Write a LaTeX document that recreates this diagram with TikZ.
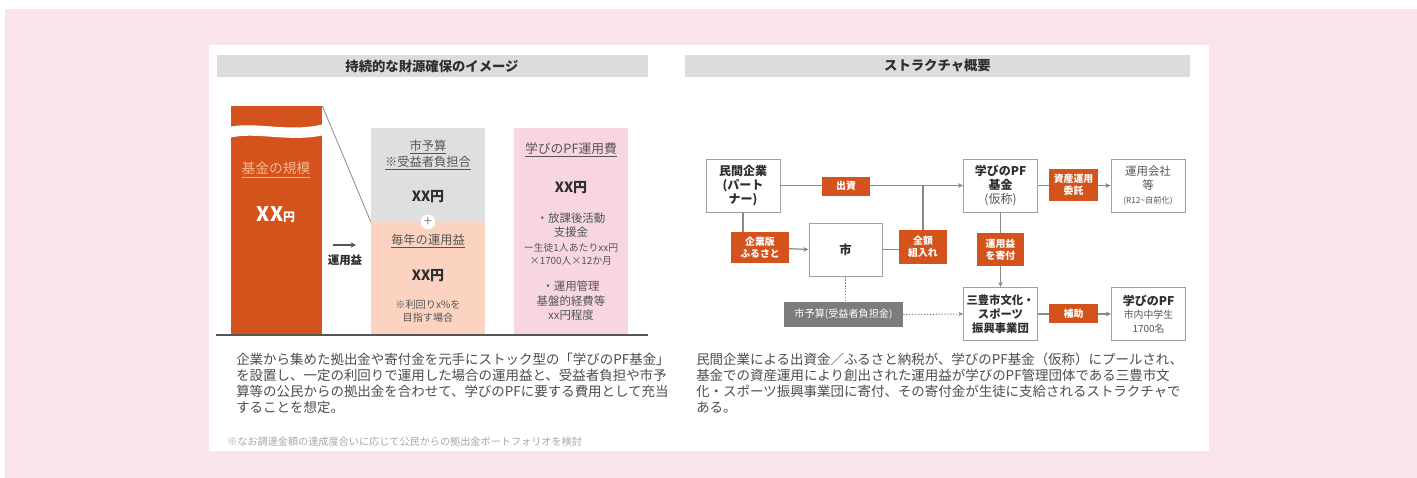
\documentclass[tikz,border=0pt]{standalone}
\usepackage{fontspec}
\setmainfont{Noto Sans CJK JP}
\usetikzlibrary{arrows.meta}
\definecolor{bgpink}{HTML}{F9E3ED}
\definecolor{orng}{HTML}{D4531C}
\definecolor{hdrgray}{HTML}{DCDCDC}
\definecolor{boxgray}{HTML}{DFDFDF}
\definecolor{peach}{HTML}{FBD3C0}
\definecolor{pinkbox}{HTML}{F8D6DF}
\definecolor{dgray}{HTML}{7C7C7C}
\definecolor{linegray}{HTML}{8A8A8A}
\definecolor{txt}{HTML}{2E2E2E}
\definecolor{txtmid}{HTML}{555555}
\definecolor{lightorng}{HTML}{F6B68E}
\tikzset{
  hdr/.style={fill=hdrgray, minimum height=16.5pt, inner sep=0pt, text=txt, font=\fontsize{10}{11}\selectfont\bfseries},
  wbox/.style={draw=linegray!80, line width=0.6pt, fill=white, minimum width=55.5pt, minimum height=39.75pt, inner sep=0pt, align=center, text=txt, font=\fontsize{9}{10.3}\selectfont\bfseries},
  olab/.style={fill=orng, inner sep=0pt, align=center, text=white, font=\fontsize{7.4}{9}\selectfont\bfseries},
  conn/.style={draw=linegray, line width=0.9pt},
  arr/.style={conn, -{Stealth[length=4pt,width=3.6pt]}},
  dotl/.style={draw=linegray, line width=0.8pt, dash pattern=on 1pt off 1.2pt},
  para/.style={anchor=north west, align=left, inner sep=0pt, text=txt!85, font=\fontsize{10.1}{11.9}\selectfont},
  bartxt/.style={align=center, inner sep=0pt, text=txtmid},
}
\begin{document}
\begin{tikzpicture}[x=0.75pt,y=-0.75pt]
\useasboundingbox (0,0) rectangle (1417,478);
\fill[white] (0,0) rectangle (1417,478);
\fill[bgpink] (5,9) rectangle (1417,478);
\fill[white] (209,45) rectangle (1209,451);

% headers
\node[hdr, minimum width=323.25pt] (h1) at (432,66) {持続的な財源確保のイメージ};
\node[hdr, minimum width=378.75pt] (h2) at (937.5,66) {ストラクチャ概要};

% ---------- left diagram ----------
\node[fill=orng, minimum width=68.25pt, minimum height=171.75pt, inner sep=0pt] (col) at (276.5,220.5) {};
\fill[white] (229,127) .. controls (255,121) and (290,133) .. (324,124)
  -- (324,135) .. controls (290,143) and (255,131) .. (229,138) -- cycle;
\node[inner sep=0pt, text=lightorng, font=\fontsize{10.3}{12}\selectfont] (kibo) at (276,170) {\underline{基金の規模}};
\node[inner sep=0pt, text=white, font=\bfseries] (kxx) at (276,215) {\fontsize{15}{17}\selectfont XX\fontsize{9}{10}\selectfont 円};

\node[fill=boxgray, minimum width=85.5pt, minimum height=70.5pt, inner sep=0pt] (gbox) at (428,175) {};
\node[fill=peach, minimum width=85.5pt, minimum height=84.75pt, inner sep=0pt] (peach) at (428,278.5) {};
\node[fill=pinkbox, minimum width=85.5pt, minimum height=155.25pt, inner sep=0pt] (pbox) at (571,231.5) {};

\draw[draw=linegray, line width=0.6pt] (col.north east) -- (peach.north west);
\draw[draw=txtmid, line width=0.8pt] (216,335) -- (648,335);

\node[circle, fill=white, minimum size=11pt, inner sep=0pt, text=linegray, font=\fontsize{11}{11}\selectfont] (plus) at (428,222) {+};

\node[bartxt, font=\fontsize{9.2}{11.5}\selectfont] (g1) at (428,155) {\underline{市予算}\\\underline{※受益者負担合}};
\node[bartxt, text=txt, font=\fontsize{10.5}{12}\selectfont\bfseries] (g2) at (428,197) {XX円};
\node[bartxt, font=\fontsize{9.2}{11}\selectfont] (p1) at (428,241) {\underline{毎年の運用益}};
\node[bartxt, text=txt, font=\fontsize{10.5}{12}\selectfont\bfseries] (p2) at (428,276) {XX円};
\node[bartxt, font=\fontsize{7.6}{9.5}\selectfont] (p3) at (428,311) {※利回りx\%を\\目指す場合};

\node[bartxt, font=\fontsize{9.6}{11}\selectfont] (k1) at (571,150) {\underline{学びのPF運用費}};
\node[bartxt, text=txt, font=\fontsize{10.5}{12}\selectfont\bfseries] (k2) at (571,188) {XX円};
\node[bartxt, font=\fontsize{8.6}{11}\selectfont] (k3) at (571,225) {・放課後活動\\支援金};
\node[bartxt, font=\fontsize{7.4}{10}\selectfont] (k4) at (571,254) {ー生徒1人あたりxx円\\×1700人×12か月};
\node[bartxt, font=\fontsize{8.6}{10.8}\selectfont] (k5) at (571,301) {・運用管理\\基盤的経費等\\xx円程度};

\coordinate (ua) at (333,245);
\coordinate (ub) at (356,245);
\draw[draw=txtmid, line width=1.3pt, -{Stealth[length=4pt,width=4pt]}] (ua) -- (ub);
\node[inner sep=0pt, text=txt, font=\fontsize{8.6}{10}\selectfont\bfseries] (unyoeki) at (345,260) {運用益};

\node[para] (ltext) at (236,353) {企業から集めた拠出金や寄付金を元手にストック型の「学びのPF基金」\\を設置し、一定の利回りで運用した場合の運用益と、受益者負担や市予\\算等の公民からの拠出金を合わせて、学びのPFに要する費用として充当\\することを想定。};
\node[anchor=west, inner sep=0pt, text=black!35, font=\fontsize{7.6}{9}\selectfont] (note) at (227,442) {※なお調達金額の達成度合いに応じて公民からの拠出金ポートフォリオを検討};

% ---------- right diagram ----------
\node[wbox] (partner) at (743,185.5) {民間企業\\(パート\\ナー)};
\node[wbox] (fund) at (1000.5,185.5) {学びのPF\\基金\\{\mdseries\color{txtmid}(仮称)}};
\node[wbox, font=\fontsize{8.6}{10.3}\selectfont, text=txtmid] (company) at (1148,185.5) {運用会社\\等\\{\fontsize{6.2}{8}\selectfont (R12\textasciitilde 自前化)}};
\node[wbox, minimum width=54.75pt, font=\fontsize{9.2}{10}\selectfont\bfseries] (shi) at (845.5,249.5) {市};
\node[wbox, font=\fontsize{8.5}{10.3}\selectfont\bfseries] (dan) at (1000.5,314) {三豊市文化・\\スポーツ\\振興事業団};
\node[wbox] (pf) at (1148.5,314) {学びのPF\\{\mdseries\color{txtmid}\fontsize{7.4}{9.3}\selectfont 市内中学生}\\{\mdseries\color{txtmid}\fontsize{7.4}{9.3}\selectfont 1700名}};
\node[fill=dgray, minimum width=89.25pt, minimum height=18.75pt, inner sep=0pt, text=white!92, font=\fontsize{7.6}{9}\selectfont] (yosan) at (843.5,314.5) {市予算(受益者負担金)};

% connectors
\draw[arr] (partner.east) -- (fund.west);
\coordinate (join) at (923,185.5);
\draw[conn] (partner.south) -- (partner.south |- 760,232);
\draw[arr] (760,247.5) -- (shi.west);
\draw[conn] (shi.east) -- (923,249.5);
\draw[conn] (923,247) -- (join);
\draw[arr] (fund.east) -- (company.west);
\draw[arr] (fund.south) -- (dan.north);
\draw[arr] (dan.east) -- (pf.west);
\draw[dotl] (shi.south) -- (shi.south |- yosan.north);
\draw[dotl, -{Stealth[length=3.5pt,width=3.2pt]}] (yosan.east) -- (dan.west);

% orange labels
\node[olab, minimum width=36pt, minimum height=14.25pt] (shusshi) at (846,186) {出資};
\node[olab, minimum width=36.75pt, minimum height=24pt] (itaku) at (1073.5,185) {資産運用\\委託};
\node[olab, minimum width=43.5pt, minimum height=23.25pt] (furusato) at (760,247.5) {企業版\\ふるさと};
\node[olab, minimum width=36pt, minimum height=25.5pt] (zengaku) at (923,247) {全額\\組入れ};
\node[olab, minimum width=35.25pt, minimum height=24.75pt] (kifu) at (1000.5,249.5) {運用益\\を寄付};
\node[olab, minimum width=36.75pt, minimum height=14.25pt] (hojo) at (1073.5,313.5) {補助};

\node[para] (rtext) at (696,353) {民間企業による出資金／ふるさと納税が、学びのPF基金（仮称）にプールされ、\\基金での資産運用により創出された運用益が学びのPF管理団体である三豊市文\\化・スポーツ振興事業団に寄付、その寄付金が生徒に支給されるストラクチャで\\ある。};
\end{tikzpicture}
\end{document}
